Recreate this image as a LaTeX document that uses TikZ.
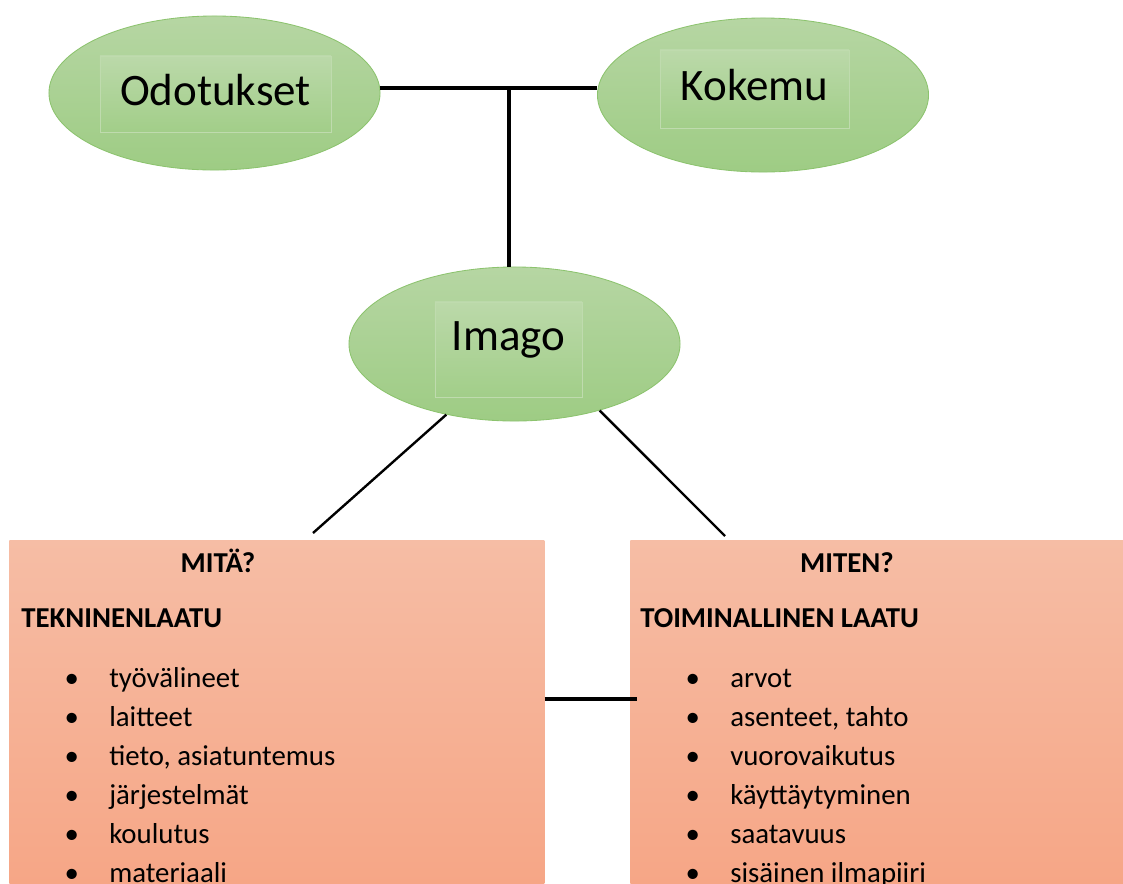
\documentclass[tikz,border=0pt]{standalone}
\usepackage{fontspec}
\setmainfont{Carlito}
\usetikzlibrary{shapes,calc}
\definecolor{greentop}{RGB}{182,214,163}
\definecolor{greenbot}{RGB}{158,204,132}
\definecolor{greenline}{RGB}{140,195,110}
\definecolor{boxtop}{RGB}{246,189,165}
\definecolor{boxbot}{RGB}{246,166,134}
\tikzset{
  ellnode/.style = {shape=ellipse, draw=greenline, line width=0.6pt,
                    top color=greentop, bottom color=greenbot,
                    minimum width=8.275cm, minimum height=3.85cm},
  lbl/.style     = {shape=rectangle, draw=greentop!88!white, line width=0.3pt,
                    top color=greentop!93!white, bottom color=greenbot!96!white,
                    font=\fontsize{32}{38}\selectfont, inner sep=0pt, text depth=0.22cm},
  qbox/.style    = {shape=rectangle, anchor=north west, inner sep=0pt,
                    top color=boxtop, bottom color=boxbot},
  title/.style   = {font=\fontsize{20.5}{25}\selectfont\bfseries, anchor=base, inner sep=0pt},
  head/.style    = {title, anchor=base west},
  item/.style    = {font=\fontsize{20.5}{25}\selectfont, anchor=base west, inner sep=0pt},
  conn/.style    = {draw, line width=2.2pt},
  diag/.style    = {draw, line width=1.7pt},
}
\begin{document}
\begin{tikzpicture}[x=0.025cm, y=-0.025cm]
    \useasboundingbox (0,0) rectangle (1123,883);
    \node [ellnode] (odo) at (214.5,93) {};
    \node [ellnode] (kok) at (763,95) {};
    \node [ellnode] (img) at (514.5,344) {};
    \node [lbl, minimum width=5.775cm, minimum height=1.9cm] (odoT) at (215.5,94) {Odotukset};
    \node [lbl, minimum width=4.725cm, minimum height=1.95cm] (kokT) at (754.5,89) {Kokemu};
    \node [lbl, minimum width=3.675cm, minimum height=2.375cm, text depth=0.67cm] (imgT) at (508.5,349.5) {Imago};

    \coordinate (hub) at (509,88);
    \draw [conn] (odo.east |- hub) -- (kok.west |- hub);
    \draw [conn] (hub) -- (hub |- img.north);

    \node [qbox, minimum width=13.375cm, minimum height=8.6cm] (lbox) at (9,540) {};
    \node [qbox, minimum width=12.35cm, minimum height=8.6cm] (rbox) at (630,540) {};

    \coordinate (lend) at (313,533);
    \coordinate (rend) at (725,536);
    \draw [diag] (img.226.7) -- (lend);
    \draw [diag] (img.322.5) -- (rend);
    \coordinate (bmid) at (0,699);
    \draw [conn] (lbox.east |- bmid) -- ([xshift=0.175cm]rbox.west |- bmid);

    \node [title] (mita) at (218,572) {MITÄ?};
    \node [head] (tekn) at (21,627) {TEKNINENLAATU};
    \foreach \t [count=\i from 0] in {työvälineet, laitteet, {tieto, asiatuntemus}, järjestelmät, koulutus, materiaali}
        \node [item] (tek\i) at (109,687+39*\i) {\llap{\textbullet\hspace{0.76cm}}\t};

    \node [title] (miten) at (847,572) {MITEN?};
    \node [head] (toim) at (640,627) {TOIMINALLINEN LAATU};
    \foreach \t [count=\i from 0] in {arvot, {asenteet, tahto}, vuorovaikutus, käyttäytyminen, saatavuus, sisäinen ilmapiiri}
        \node [item] (toi\i) at (730,687+39*\i) {\llap{\textbullet\hspace{0.76cm}}\t};
\end{tikzpicture}
\end{document}
